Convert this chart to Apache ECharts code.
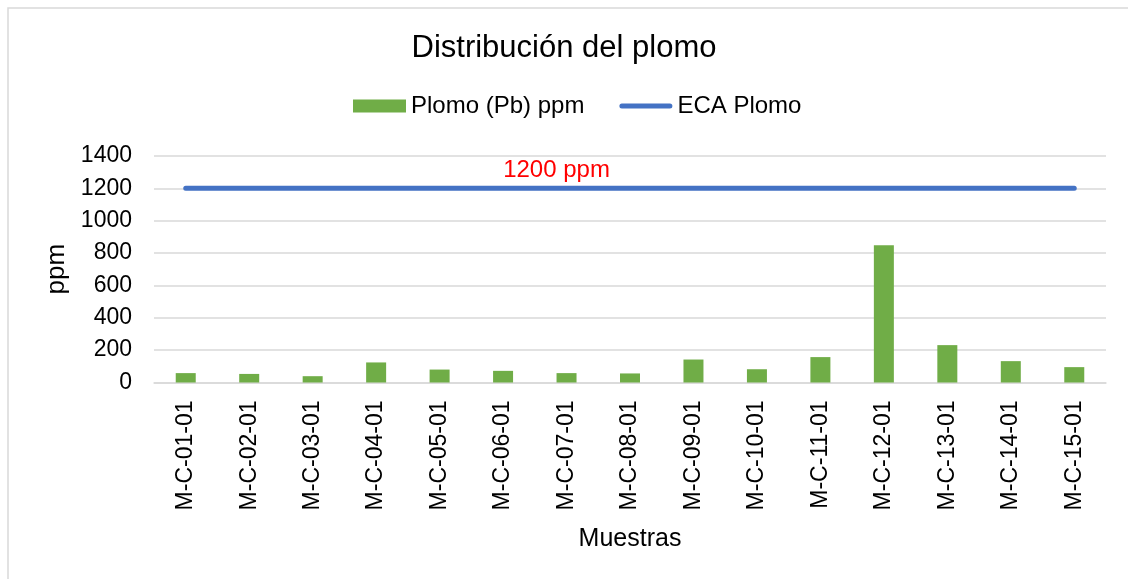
<!DOCTYPE html>
<html>
<head>
<meta charset="utf-8">
<script src="https://cdn.jsdelivr.net/npm/echarts@6/dist/echarts.min.js"></script>
<style>
html,body{margin:0;padding:0;background:#fff;}
#chart{width:1128px;height:579px;}
</style>
</head>
<body>
<div id="chart"></div>
<script>
const categories = ['M-C-01-01','M-C-02-01','M-C-03-01','M-C-04-01','M-C-05-01','M-C-06-01','M-C-07-01','M-C-08-01','M-C-09-01','M-C-10-01','M-C-11-01','M-C-12-01','M-C-13-01','M-C-14-01','M-C-15-01'];
const plomo = [58, 53, 39, 124, 80, 72, 58, 56, 142, 82, 157, 848, 231, 132, 95];
const ecaPlomo = [1200, 1200, 1200, 1200, 1200, 1200, 1200, 1200, 1200, 1200, 1200, 1200, 1200, 1200, 1200];
const ecaLabel = '1200 ppm';
const yTicks = {min: 0, max: 1400, interval: 200};

const FONT = '"Liberation Sans", Arial, sans-serif';
const chart = echarts.init(document.getElementById('chart'), null, {renderer: 'canvas'});

const ecaData = ecaPlomo.map((v, i) => i === 6 ? {
  value: v,
  label: {show: true, position: 'top', distance: 6, offset: [-10, 0], formatter: ecaLabel, color: '#ff0000', fontSize: 24, fontFamily: FONT}
} : v);

// thin rounded bar centred in the 53x13 legend box (zero-length subpaths fix the bounding box)
const lineIcon = 'path://M0,0L0,0M2.5,4L50.5,4A2.5,2.5,0,0,1,50.5,9L2.5,9A2.5,2.5,0,0,1,2.5,4ZM53,13L53,13';

chart.setOption({
  animation: false,
  textStyle: {fontFamily: FONT},
  graphic: [{
    type: 'rect', silent: true, z: -1,
    shape: {x: 8, y: 8, width: 1300, height: 800},
    style: {fill: 'none', stroke: '#d9d9d9', lineWidth: 1.5}
  }],
  title: {
    text: 'Distribución del plomo', left: 'center', top: 28,
    textStyle: {fontSize: 31, fontWeight: 'normal', color: '#000', fontFamily: FONT}
  },
  legend: {
    top: 89, left: 348, itemWidth: 53, itemHeight: 13, itemGap: 35,
    textStyle: {fontSize: 24, color: '#000', fontFamily: FONT},
    data: [
      {name: 'Plomo (Pb) ppm', icon: 'rect'},
      {name: 'ECA Plomo', icon: lineIcon, itemStyle: {color: '#4472c4'}, lineStyle: {opacity: 0}}
    ]
  },
  grid: {left: 154, right: 22, top: 156, bottom: 196.5, containLabel: false},
  xAxis: {
    type: 'category', data: categories,
    name: 'Muestras', nameLocation: 'middle', nameGap: 144,
    nameTextStyle: {fontSize: 25, color: '#000', fontFamily: FONT},
    axisLine: {lineStyle: {color: '#d9d9d9', width: 1.5}},
    axisTick: {show: false},
    axisLabel: {rotate: 90, fontSize: 23, color: '#000', margin: 18, fontFamily: FONT}
  },
  yAxis: {
    type: 'value', min: yTicks.min, max: yTicks.max, interval: yTicks.interval,
    name: 'ppm', nameLocation: 'middle', nameGap: 82, nameRotate: 90,
    nameTextStyle: {fontSize: 26, color: '#000', fontFamily: FONT},
    axisLine: {show: false}, axisTick: {show: false},
    axisLabel: {fontSize: 23, color: '#000', margin: 22, fontFamily: FONT, formatter: v => String(v)},
    splitLine: {lineStyle: {color: '#d9d9d9', width: 1.5}}
  },
  series: [{
    name: 'Plomo (Pb) ppm', type: 'bar', data: plomo, barWidth: 20,
    itemStyle: {color: '#70ad47'}
  }, {
    name: 'ECA Plomo', type: 'line', data: ecaData,
    symbol: 'circle', symbolSize: 0, showSymbol: true,
    lineStyle: {color: '#4472c4', width: 5, cap: 'round'},
    itemStyle: {color: '#4472c4'}
  }]
});
</script>
</body>
</html>
